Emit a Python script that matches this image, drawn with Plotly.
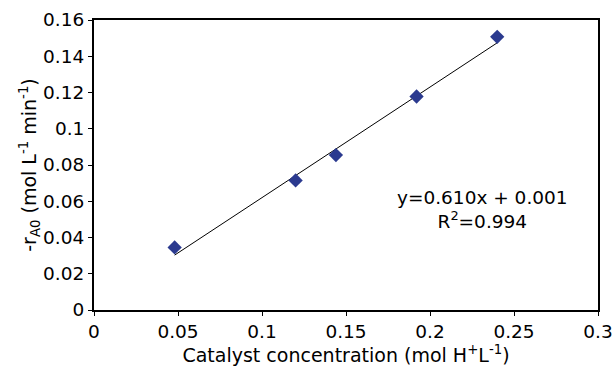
import plotly.graph_objects as go

x_conc = [0.048, 0.120, 0.144, 0.192, 0.240]
y_rate = [0.0345, 0.0715, 0.0855, 0.1178, 0.1507]
slope = 0.610
intercept = 0.001
fit_x = [0.048, 0.240]
fit_y = [slope * v + intercept for v in fit_x]

FONT = "DejaVu Sans, Liberation Sans, Arial, sans-serif"

fig = go.Figure()
fig.add_trace(go.Scatter(x=fit_x, y=fit_y, mode="lines",
                         line=dict(color="black", width=1), showlegend=False))
fig.add_trace(go.Scatter(x=x_conc, y=y_rate, mode="markers",
                         marker=dict(symbol="diamond", size=11, color="#2B3A8F"),
                         showlegend=False))

fig.add_annotation(x=0.2313, y=0.0552, xref="x", yref="y", showarrow=False,
                   text="y=0.610x + 0.001<br>R<sup>2</sup>=0.994", align="center",
                   font=dict(size=18.5, color="black", family=FONT))

axis_common = dict(showline=True, linecolor="black", linewidth=2, mirror=True,
                   ticks="outside", ticklen=4, tickcolor="black", showgrid=False,
                   zeroline=False, automargin=False,
                   tickfont=dict(size=18.5, color="black", family=FONT))
fig.update_xaxes(range=[0, 0.3], dtick=0.05, tick0=0,
                 title=dict(text="Catalyst concentration (mol H<sup>+</sup>L<sup>-1</sup>)",
                            font=dict(size=19, color="black", family=FONT), standoff=5),
                 **axis_common)
fig.update_yaxes(range=[0, 0.16], dtick=0.02, tick0=0,
                 title=dict(text="-r<sub>A0</sub> (mol L<sup>-1</sup> min<sup>-1</sup>)",
                            font=dict(size=19, color="black", family=FONT), standoff=0),
                 **axis_common)
fig.update_layout(width=613, height=367, margin=dict(l=94, r=15, t=20, b=57),
                  plot_bgcolor="white", paper_bgcolor="white")
fig.write_html("out.html", config={"displayModeBar": False},
               post_script="document.body.style.margin='0';document.body.style.overflow='hidden';")
